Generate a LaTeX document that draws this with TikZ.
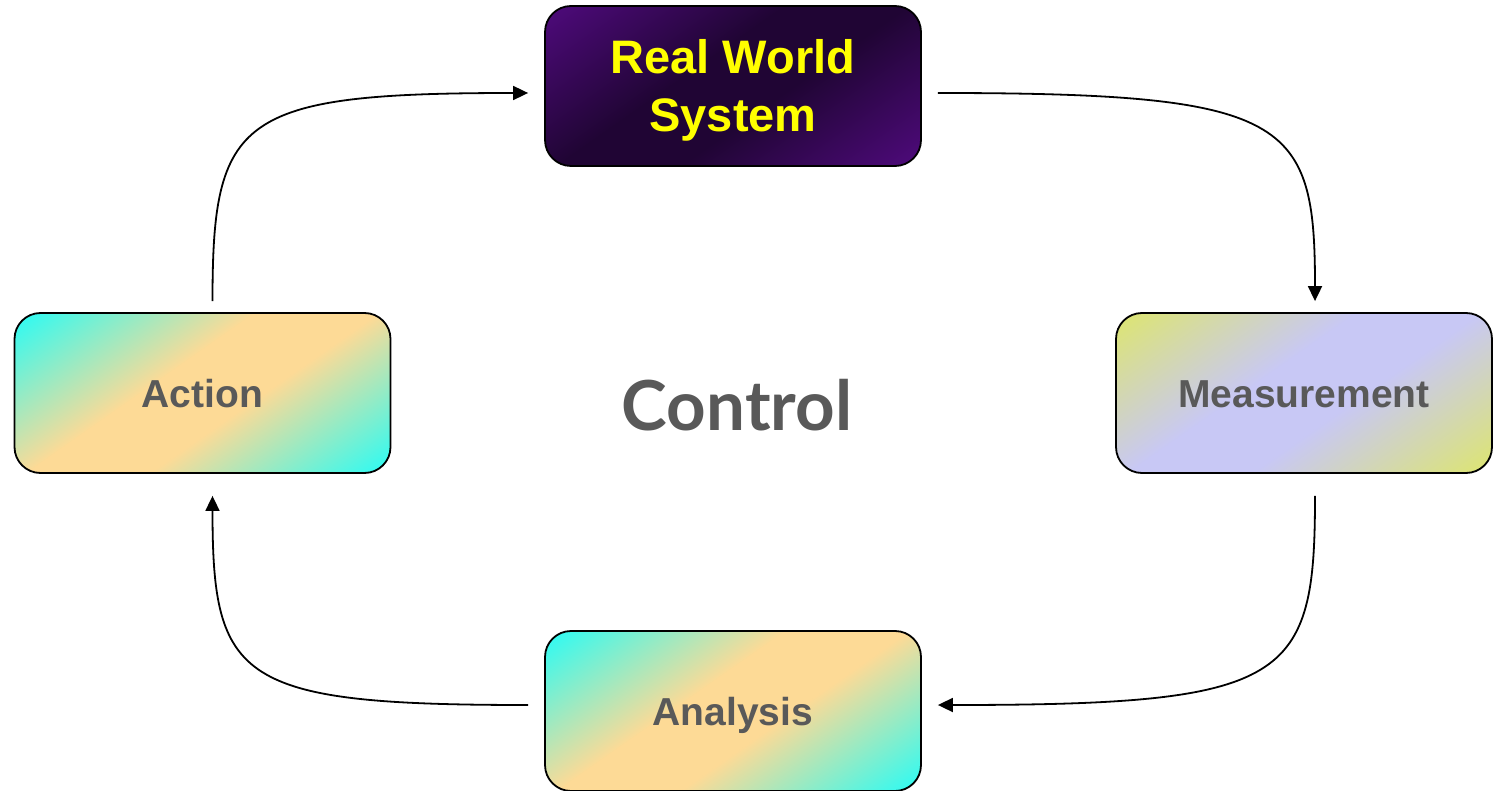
\documentclass[tikz,border=0pt]{standalone}
\usepackage{fontspec}
\setmainfont{Liberation Sans}
\newfontfamily\ctrlfont{Lato}
\usetikzlibrary{arrows.meta}
\definecolor{acyan}{RGB}{52,250,240}
\definecolor{aorange}{RGB}{253,218,150}
\definecolor{myellow}{RGB}{220,228,118}
\definecolor{mlav}{RGB}{200,200,245}
\definecolor{rpurple}{RGB}{76,10,120}
\definecolor{rdark}{RGB}{32,5,52}
\definecolor{tgray}{RGB}{89,89,89}
\definecolor{ryellow}{RGB}{255,255,0}
\tikzset{
  box/.style={draw=black, line width=1.8pt, rounded corners=26pt,
    minimum width=376pt, minimum height=160pt, inner sep=0pt, align=center},
  grad/.style n args={2}{fill=#1, path picture={
    \begin{scope}[transform canvas={rotate around={-55:(path picture bounding box.center)}}]
      \shade[left color=#1, right color=#2]
        ([shift={(-165,-260)}]path picture bounding box.center) rectangle
        ([shift={(-35,260)}]path picture bounding box.center);
      \shade[left color=#2, right color=#1]
        ([shift={(35,-260)}]path picture bounding box.center) rectangle
        ([shift={(165,260)}]path picture bounding box.center);
      \fill[#2]
        ([shift={(-35.6,-260)}]path picture bounding box.center) rectangle
        ([shift={(35.6,260)}]path picture bounding box.center);
    \end{scope}}},
  lbl/.style={text=tgray, font=\bfseries\fontsize{39}{46}\selectfont,
    text height=28pt, text depth=0pt},
  conn/.style={draw=black, line width=1.8pt, -{Triangle[length=15pt,width=14pt]}}
}
\begin{document}
\begin{tikzpicture}[x=1pt,y=-1pt]
\useasboundingbox (0,0) rectangle (1493,791);
\node[box, grad={rpurple}{rdark}] (rws) at (733,86) {};
\node[text=ryellow, font=\bfseries\fontsize{47}{58}\selectfont, align=center] (rwstext) at (733,90) {Real World\\System};
\node[box, lbl, grad={acyan}{aorange}] (act) at (202.5,393) {Action};
\node[box, lbl, grad={myellow}{mlav}] (meas) at (1304,393) {Measurement};
\node[box, lbl, grad={acyan}{aorange}] (ana) at (733,711) {Analysis};
\node[text=tgray, font=\ctrlfont\bfseries\fontsize{69}{72}\selectfont] (ctrl) at (737,405) {Control};
\coordinate (s1) at ([shift={(16,7)}]rws.east);
\coordinate (e1) at ([shift={(11,-11)}]meas.north);
\coordinate (s2) at ([shift={(11,22)}]meas.south);
\coordinate (e2) at ([shift={(16,-6)}]ana.east);
\coordinate (s3) at ([shift={(-16,-6)}]ana.west);
\coordinate (e3) at ([shift={(10,22)}]act.south);
\coordinate (s4) at ([shift={(10,-11)}]act.north);
\coordinate (e4) at ([shift={(-16,7)}]rws.west);
\draw[conn] (s1) .. controls +(352,0) and +(0,-182) .. (e1);
\draw[conn] (s2) .. controls +(0,185) and +(352,0) .. (e2);
\draw[conn] (s3) .. controls +(-290,0) and +(0,185) .. (e3);
\draw[conn] (s4) .. controls +(0,-184) and +(-290,0) .. (e4);
\end{tikzpicture}
\end{document}
